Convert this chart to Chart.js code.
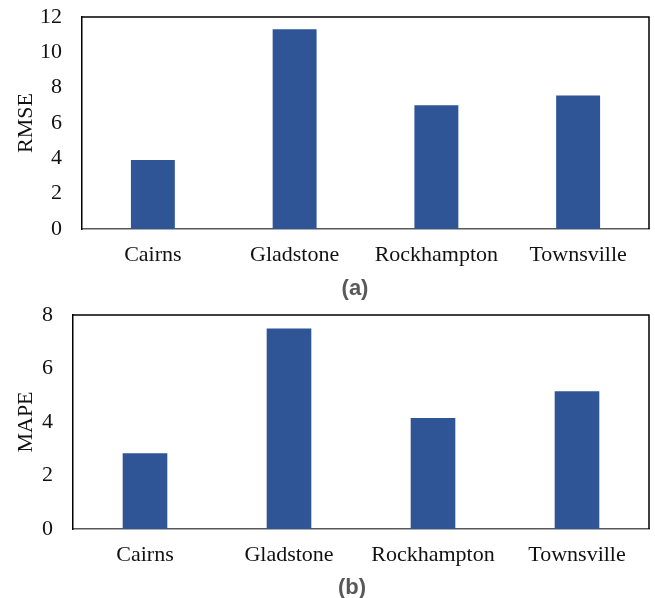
<!DOCTYPE html>
<html>
<head>
<meta charset="utf-8">
<script src="https://cdn.jsdelivr.net/npm/chart.js@4.4.1/dist/chart.umd.min.js"></script>
<style>
    html, body { margin: 0; padding: 0; background: #fff; }
    #wrap { position: relative; width: 655px; height: 598px; }
    .box { position: absolute; left: 0; width: 655px; }
    .tag {
        position: absolute;
        font: bold 22px "Liberation Sans", Arial, sans-serif;
        color: #595959;
        transform: translate(-50%, -50%);
        white-space: nowrap;
    }
</style>
</head>
<body>
<div id="wrap">
    <div class="box" style="top:0;height:300px;"><canvas id="chart-a"></canvas></div>
    <div class="box" style="top:300px;height:298px;"><canvas id="chart-b"></canvas></div>
    <div class="tag" style="left:355px;top:288px;">(a)</div>
    <div class="tag" style="left:352px;top:587px;">(b)</div>
</div>
<script>
// === Dữ liệu ===
const cities = ['Cairns', 'Gladstone', 'Rockhampton', 'Townsville'];
const rmseValues = [3.9, 11.3, 7.0, 7.55];
const mapeValues = [2.83, 7.5, 4.15, 5.15];
const rmseTicks = { min: 0, max: 12, step: 2 };
const mapeTicks = { min: 0, max: 8, step: 2 };

const BAR_COLOR = '#2F5597';
const SERIF = '"Liberation Serif", "Times New Roman", serif';

// Vẽ viền trên và phải của vùng biểu đồ (khung kiểu Excel)
const frame = {
    id: 'frame',
    afterDraw(chart) {
        const { ctx, chartArea: a } = chart;
        ctx.save();
        ctx.strokeStyle = '#000';
        ctx.lineWidth = 1.5;
        ctx.beginPath();
        ctx.moveTo(a.left, a.top);
        ctx.lineTo(a.right, a.top);
        ctx.lineTo(a.right, a.bottom);
        ctx.stroke();
        ctx.restore();
    }
};

const makeChart = (canvasId, values, yTitle, ticks, box) => {
    const ctx = document.getElementById(canvasId).getContext('2d');
    return new Chart(ctx, {
        type: 'bar',
        data: {
            labels: cities,
            datasets: [{
                data: values,
                backgroundColor: BAR_COLOR,
                categoryPercentage: 1,
                barPercentage: 0.31
            }]
        },
        options: {
            responsive: true,
            maintainAspectRatio: false,
            animation: false,
            layout: { padding: { top: box.top, right: box.right, left: 0, bottom: 0 } },
            plugins: { legend: { display: false }, tooltip: { enabled: false } },
            scales: {
                x: {
                    grid: { display: false, drawTicks: false },
                    border: { display: true, color: '#595959', width: 1.5 },
                    ticks: { color: '#111', font: { family: SERIF, size: 22 }, padding: 13, maxRotation: 0 },
                    afterFit: (scale) => {
                        scale.height = box.xHeight;
                        scale.paddingLeft = 0;
                        scale.paddingRight = 0;
                    }
                },
                y: {
                    min: ticks.min,
                    max: ticks.max,
                    grid: { display: false, drawTicks: false },
                    border: { display: true, color: '#000', width: 1.5 },
                    ticks: { stepSize: ticks.step, color: '#111', font: { family: SERIF, size: 22 }, padding: 20 },
                    title: { display: true, text: yTitle, color: '#111', font: { family: SERIF, size: 22 }, padding: { top: 13, bottom: 0 } },
                    afterFit: (scale) => {
                        scale.width = box.yWidth;
                        scale.paddingTop = 0;
                        scale.paddingBottom = 0;
                    }
                }
            }
        },
        plugins: [frame]
    });
};

makeChart('chart-a', rmseValues, 'RMSE', rmseTicks, { top: 17, right: 6, xHeight: 71, yWidth: 82 });
makeChart('chart-b', mapeValues, 'MAPE', mapeTicks, { top: 15, right: 6, xHeight: 69, yWidth: 73 });
</script>
</body>
</html>
